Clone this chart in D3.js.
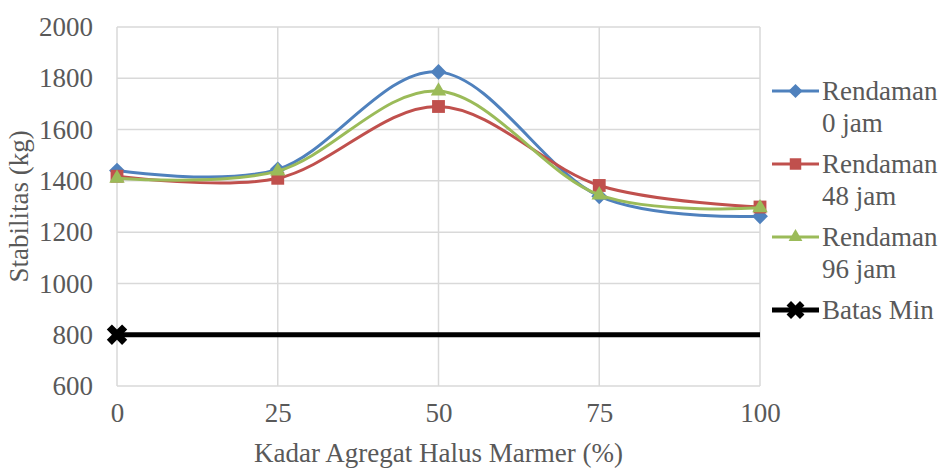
<!DOCTYPE html>
<html>
<head>
<meta charset="utf-8">
<script src="https://cdn.jsdelivr.net/npm/d3@7"></script>
<style>
  body { margin: 0; background: #fff; }
  text { font-family: "Liberation Serif", "Times New Roman", serif; fill: #595959; }
</style>
</head>
<body>
<svg width="942" height="469"></svg>
<script>
// values
var kadar = [0, 25, 50, 75, 100];
var rendaman0 = [1440, 1445, 1825, 1340, 1262];
var rendaman48 = [1418, 1410, 1690, 1382, 1298];
var rendaman96 = [1410, 1438, 1750, 1345, 1295];
var batasX = [0, 100];
var batasMin = [800, 800];
var yTicks = [600, 800, 1000, 1200, 1400, 1600, 1800, 2000];
var xTicks = [0, 25, 50, 75, 100];

var width = 942, height = 469;
var margin = ({top: 27, right: 182, bottom: 83, left: 117});
var fs = 27;

var x = d3.scaleLinear()
    .domain([0, 100])
    .range([margin.left, width - margin.right]);
var y = d3.scaleLinear()
    .domain([600, 2000])
    .range([height - margin.bottom, margin.top]);

var svg = d3.select("svg");

// grid
svg.append("g")
    .selectAll("line")
    .data(yTicks)
    .join("line")
      .attr("x1", x(0)).attr("x2", x(100))
      .attr("y1", d => y(d)).attr("y2", d => y(d))
      .attr("stroke", "#d9d9d9").attr("stroke-width", 1.5);
svg.append("g")
    .selectAll("line")
    .data(xTicks)
    .join("line")
      .attr("x1", d => x(d)).attr("x2", d => x(d))
      .attr("y1", y(600)).attr("y2", y(2000))
      .attr("stroke", "#d9d9d9").attr("stroke-width", 1.5);

// axes (labels only)
var yAxis = g => g
    .attr("transform", `translate(${margin.left - 24},0)`)
    .call(d3.axisLeft(y).tickValues(yTicks).tickFormat(d3.format("d")).tickSize(0).tickPadding(0))
    .call(g => g.select(".domain").remove())
    .call(g => g.selectAll("text").attr("font-size", fs).attr("font-family", null).attr("fill", "#595959"));
var xAxis = g => g
    .attr("transform", `translate(0,${y(600) + 17})`)
    .call(d3.axisBottom(x).tickValues(xTicks).tickFormat(d3.format("d")).tickSize(0).tickPadding(0))
    .call(g => g.select(".domain").remove())
    .call(g => g.selectAll("text").attr("font-size", fs).attr("font-family", null).attr("fill", "#595959"));
svg.append("g").call(yAxis);
svg.append("g").call(xAxis);

svg.append("text")
    .attr("transform", `translate(28,${(y(600) + y(2000)) / 2}) rotate(-90)`)
    .attr("text-anchor", "middle")
    .attr("font-size", fs)
    .text("Stabilitas (kg)");
svg.append("text")
    .attr("x", (x(0) + x(100)) / 2)
    .attr("y", 462)
    .attr("text-anchor", "middle")
    .attr("font-size", fs)
    .text("Kadar Agregat Halus Marmer (%)");

var line = d3.line()
    .x(d => x(d[0]))
    .y(d => y(d[1]))
    .curve(d3.curveCardinal.tension(0));

var series = [
  {name: ["Rendaman", "0 jam"], values: rendaman0, color: "#4f81bd", symbol: d3.symbolDiamond2, size: 160},
  {name: ["Rendaman", "48 jam"], values: rendaman48, color: "#c0504d", symbol: d3.symbolSquare2, size: 210},
  {name: ["Rendaman", "96 jam"], values: rendaman96, color: "#9bbb59", symbol: d3.symbolTriangle2, size: 170}
];

// batas min line
svg.append("path")
    .datum(d3.zip(batasX, batasMin))
    .attr("fill", "none")
    .attr("stroke", "#000")
    .attr("stroke-width", 5)
    .attr("d", line);
svg.append("path")
    .attr("transform", `translate(${x(batasX[0])},${y(batasMin[0])}) rotate(45)`)
    .attr("d", d3.symbol(d3.symbolCross, 260)())
    .attr("fill", "#000");

series.forEach(s => {
  var pts = d3.zip(kadar, s.values);
  svg.append("path")
      .datum(pts)
      .attr("fill", "none")
      .attr("stroke", s.color)
      .attr("stroke-width", 3)
      .attr("d", line);
  svg.append("g")
    .selectAll("path")
    .data(pts)
    .join("path")
      .attr("transform", d => `translate(${x(d[0])},${y(d[1])})`)
      .attr("d", d3.symbol(s.symbol, s.size)())
      .attr("fill", s.color);
});

// legend
var legend = svg.append("g");
var legendY = [91, 164, 237, 310];
series.forEach((s, i) => {
  var g = legend.append("g").attr("transform", `translate(772,${legendY[i]})`);
  g.append("line").attr("x1", 0).attr("x2", 47).attr("stroke", s.color).attr("stroke-width", 3);
  g.append("path").attr("transform", "translate(23.5,0)")
      .attr("d", d3.symbol(s.symbol, s.size * 0.8)()).attr("fill", s.color);
  g.append("text").attr("x", 50).attr("y", 9).attr("font-size", fs).text(s.name[0]);
  g.append("text").attr("x", 50).attr("y", 41).attr("font-size", fs).text(s.name[1]);
});
var gb = legend.append("g").attr("transform", `translate(772,${legendY[3]})`);
gb.append("line").attr("x1", 0).attr("x2", 47).attr("stroke", "#000").attr("stroke-width", 5);
gb.append("path").attr("transform", "translate(23.5,0) rotate(45)")
    .attr("d", d3.symbol(d3.symbolCross, 200)()).attr("fill", "#000");
gb.append("text").attr("x", 50).attr("y", 9).attr("font-size", fs).text("Batas Min");
</script>
</body>
</html>
